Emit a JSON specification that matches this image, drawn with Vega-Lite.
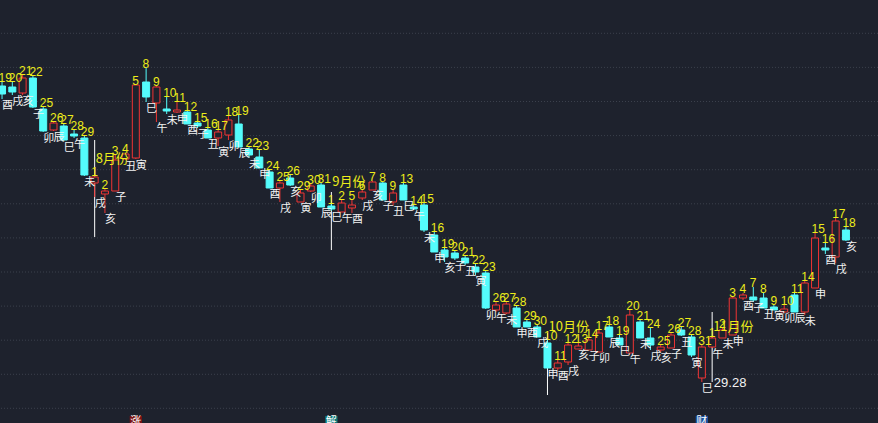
{
  "$schema": "https://vega.github.io/schema/vega-lite/v6.json",
  "width": 878,
  "height": 423,
  "autosize": {"type": "none"},
  "padding": 0,
  "background": "#1e222d",
  "config": {"view": {"stroke": null}},
  "datasets": {
    "k": [
      {"i":0,"d":"19","b":"酉","o":35.20,"h":35.28,"l":34.94,"c":35.04},
      {"i":1,"d":"20","b":"戌","o":35.18,"h":35.28,"l":35.02,"c":35.08},
      {"i":2,"d":"21","b":"亥","o":35.06,"h":35.42,"l":35.02,"c":35.36},
      {"i":3,"d":"22","b":"子","o":35.36,"h":35.40,"l":34.76,"c":34.78},
      {"i":4,"d":"25","b":"卯","o":34.74,"h":34.78,"l":34.28,"c":34.30},
      {"i":5,"d":"26","b":"辰","o":34.32,"h":34.48,"l":34.30,"c":34.46},
      {"i":6,"d":"27","b":"巳","o":34.40,"h":34.44,"l":34.10,"c":34.12},
      {"i":7,"d":"28","b":"午","o":34.24,"h":34.32,"l":34.16,"c":34.20},
      {"i":8,"d":"29","b":"未","o":34.16,"h":34.20,"l":33.40,"c":33.42},
      {"i":9,"d":"1","b":"戌","o":33.26,"h":33.40,"l":32.98,"c":33.38},
      {"i":10,"d":"2","b":"亥","o":33.04,"h":33.14,"l":32.66,"c":33.10},
      {"i":11,"d":"3","b":"子","o":33.10,"h":33.82,"l":33.10,"c":33.72},
      {"i":12,"d":"4","b":"丑","o":33.74,"h":33.86,"l":33.72,"c":33.84},
      {"i":13,"d":"5","b":"寅","o":33.76,"h":35.22,"l":33.74,"c":35.22},
      {"i":14,"d":"8","b":"巳","o":35.28,"h":35.56,"l":34.88,"c":34.98},
      {"i":15,"d":"9","b":"午","o":34.86,"h":35.20,"l":34.48,"c":35.18},
      {"i":16,"d":"10","b":"未","o":34.74,"h":34.98,"l":34.64,"c":34.70},
      {"i":17,"d":"11","b":"申","o":34.68,"h":34.88,"l":34.66,"c":34.72},
      {"i":18,"d":"12","b":"酉","o":34.68,"h":34.70,"l":34.44,"c":34.44},
      {"i":19,"d":"15","b":"子","o":34.46,"h":34.48,"l":34.36,"c":34.40},
      {"i":20,"d":"16","b":"丑","o":34.32,"h":34.36,"l":34.16,"c":34.16},
      {"i":21,"d":"17","b":"寅","o":34.16,"h":34.32,"l":34.00,"c":34.28},
      {"i":22,"d":"18","b":"卯","o":34.22,"h":34.60,"l":34.12,"c":34.52},
      {"i":23,"d":"19","b":"辰","o":34.44,"h":34.62,"l":33.98,"c":33.98},
      {"i":24,"d":"22","b":"未","o":33.94,"h":33.98,"l":33.76,"c":33.82},
      {"i":25,"d":"23","b":"申","o":33.78,"h":33.92,"l":33.56,"c":33.56},
      {"i":26,"d":"24","b":"酉","o":33.48,"h":33.52,"l":33.16,"c":33.16},
      {"i":27,"d":"25","b":"戌","o":33.16,"h":33.30,"l":32.88,"c":33.26},
      {"i":28,"d":"26","b":"亥","o":33.36,"h":33.42,"l":33.20,"c":33.22},
      {"i":29,"d":"29","b":"寅","o":32.88,"h":33.12,"l":32.88,"c":33.06},
      {"i":30,"d":"30","b":"卯","o":33.10,"h":33.24,"l":33.08,"c":33.20},
      {"i":31,"d":"31","b":"辰","o":33.22,"h":33.26,"l":32.78,"c":32.78},
      {"i":32,"d":"1","b":"巳","o":32.80,"h":32.84,"l":32.70,"c":32.74},
      {"i":33,"d":"2","b":"午","o":32.68,"h":32.92,"l":32.68,"c":32.86},
      {"i":34,"d":"5","b":"酉","o":32.76,"h":32.92,"l":32.66,"c":32.82},
      {"i":35,"d":"6","b":"戌","o":32.96,"h":33.12,"l":32.92,"c":33.08},
      {"i":36,"d":"7","b":"亥","o":33.12,"h":33.30,"l":33.12,"c":33.28},
      {"i":37,"d":"8","b":"子","o":33.26,"h":33.28,"l":32.92,"c":32.92},
      {"i":38,"d":"9","b":"丑","o":32.88,"h":33.12,"l":32.82,"c":33.06},
      {"i":39,"d":"13","b":"巳","o":33.22,"h":33.26,"l":32.92,"c":32.92},
      {"i":40,"d":"14","b":"午","o":32.78,"h":32.82,"l":32.72,"c":32.74},
      {"i":41,"d":"15","b":"未","o":32.82,"h":32.86,"l":32.28,"c":32.32},
      {"i":42,"d":"16","b":"申","o":32.22,"h":32.28,"l":31.88,"c":31.88},
      {"i":43,"d":"19","b":"亥","o":31.92,"h":31.96,"l":31.68,"c":31.78},
      {"i":44,"d":"20","b":"子","o":31.86,"h":31.90,"l":31.72,"c":31.76},
      {"i":45,"d":"21","b":"丑","o":31.76,"h":31.80,"l":31.62,"c":31.66},
      {"i":46,"d":"22","b":"寅","o":31.58,"h":31.64,"l":31.42,"c":31.48},
      {"i":47,"d":"23","b":"卯","o":31.46,"h":31.50,"l":30.74,"c":30.76},
      {"i":48,"d":"26","b":"午","o":30.72,"h":30.88,"l":30.68,"c":30.82},
      {"i":49,"d":"27","b":"未","o":30.66,"h":30.88,"l":30.64,"c":30.84},
      {"i":50,"d":"28","b":"申","o":30.76,"h":30.80,"l":30.38,"c":30.38},
      {"i":51,"d":"29","b":"酉","o":30.48,"h":30.52,"l":30.38,"c":30.38},
      {"i":52,"d":"30","b":"戌","o":30.38,"h":30.42,"l":30.18,"c":30.18},
      {"i":53,"d":"10","b":"申","o":30.06,"h":30.12,"l":29.56,"c":29.56},
      {"i":54,"d":"11","b":"酉","o":29.56,"h":29.72,"l":29.52,"c":29.66},
      {"i":55,"d":"12","b":"戌","o":29.68,"h":30.06,"l":29.62,"c":30.02},
      {"i":56,"d":"13","b":"亥","o":29.94,"h":30.06,"l":29.94,"c":30.00},
      {"i":57,"d":"14","b":"子","o":29.92,"h":30.16,"l":29.92,"c":30.12},
      {"i":58,"d":"17","b":"卯","o":29.88,"h":30.32,"l":29.88,"c":30.26},
      {"i":59,"d":"18","b":"辰","o":30.38,"h":30.42,"l":30.18,"c":30.18},
      {"i":60,"d":"19","b":"巳","o":30.16,"h":30.22,"l":30.02,"c":30.02},
      {"i":61,"d":"20","b":"午","o":29.86,"h":30.72,"l":29.86,"c":30.62},
      {"i":62,"d":"21","b":"未","o":30.48,"h":30.52,"l":30.16,"c":30.16},
      {"i":63,"d":"24","b":"戌","o":30.16,"h":30.36,"l":29.92,"c":30.02},
      {"i":64,"d":"25","b":"亥","o":29.92,"h":30.02,"l":29.88,"c":29.98},
      {"i":65,"d":"26","b":"子","o":29.96,"h":30.26,"l":29.96,"c":30.22},
      {"i":66,"d":"27","b":"丑","o":30.32,"h":30.38,"l":30.20,"c":30.22},
      {"i":67,"d":"28","b":"寅","o":30.18,"h":30.22,"l":29.78,"c":29.82},
      {"i":68,"d":"31","b":"巳","o":29.36,"h":30.02,"l":29.28,"c":29.98},
      {"i":69,"d":"1","b":"午","o":29.98,"h":30.18,"l":29.96,"c":30.16},
      {"i":70,"d":"2","b":"未","o":30.16,"h":30.36,"l":30.16,"c":30.32},
      {"i":71,"d":"3","b":"申","o":30.22,"h":30.98,"l":30.22,"c":30.96},
      {"i":72,"d":"4","b":"酉","o":30.96,"h":31.06,"l":30.92,"c":31.02},
      {"i":73,"d":"7","b":"子","o":30.98,"h":31.18,"l":30.88,"c":30.92},
      {"i":74,"d":"8","b":"丑","o":30.96,"h":31.06,"l":30.76,"c":30.76},
      {"i":75,"d":"9","b":"寅","o":30.78,"h":30.82,"l":30.72,"c":30.72},
      {"i":76,"d":"10","b":"卯","o":30.68,"h":30.82,"l":30.68,"c":30.74},
      {"i":77,"d":"11","b":"辰","o":31.02,"h":31.06,"l":30.68,"c":30.68},
      {"i":78,"d":"14","b":"未","o":30.68,"h":31.30,"l":30.62,"c":31.26},
      {"i":79,"d":"15","b":"申","o":31.16,"h":32.26,"l":31.16,"c":32.16},
      {"i":80,"d":"16","b":"酉","o":31.96,"h":32.06,"l":31.84,"c":31.92},
      {"i":81,"d":"17","b":"戌","o":31.78,"h":32.56,"l":31.66,"c":32.50},
      {"i":82,"d":"18","b":"亥","o":32.32,"h":32.38,"l":32.10,"c":32.12}
    ],
    "grid": [{"g":36.254},{"g":35.572},{"g":34.89},{"g":34.208},{"g":33.526},{"g":32.844},{"g":32.162},{"g":31.48},{"g":30.798},{"g":30.116},{"g":29.434},{"g":28.754}],
    "months": [
      {"i":9,"m":"8月份","t":34.12,"bt":32.18,"ty":33.60},
      {"i":32,"m":"9月份","t":33.08,"bt":31.92,"ty":33.14},
      {"i":53,"m":"10月份","t":30.26,"bt":29.02,"ty":30.24},
      {"i":69,"m":"11月份","t":30.68,"bt":29.28,"ty":30.24}
    ],
    "low": [{"i":68,"v":29.28}],
    "ev": [{"i":13,"t":"涨"},{"i":32,"t":"解"},{"i":68,"t":"财"}]
  },
  "layer": [
    {
      "data": {"name": "grid"},
      "mark": {"type": "rule", "strokeDash": [1, 2], "color": "#3b404c", "strokeWidth": 1},
      "encoding": {
        "y": {"field": "g", "type": "quantitative", "scale": {"domain": [28.46, 36.92], "nice": false, "zero": false}, "axis": null}
      }
    },
    {
      "data": {"name": "months"},
      "mark": {"type": "rule", "color": "#ffffff", "strokeWidth": 1},
      "encoding": {
        "x": {"field": "i", "type": "quantitative", "scale": {"domain": [0.288, 84.63], "nice": false, "zero": false}, "axis": null},
        "y": {"field": "t", "type": "quantitative", "axis": null},
        "y2": {"field": "bt"}
      }
    },
    {
      "data": {"name": "k"},
      "mark": {"type": "rule", "strokeWidth": 1},
      "encoding": {
        "x": {"field": "i", "type": "quantitative", "axis": null},
        "y": {"field": "l", "type": "quantitative", "axis": null},
        "y2": {"field": "h"},
        "color": {"condition": {"test": "datum.c >= datum.o", "value": "#f03434"}, "value": "#54fcfc"}
      }
    },
    {
      "data": {"name": "k"},
      "mark": {"type": "bar", "width": 7, "strokeWidth": 1},
      "encoding": {
        "x": {"field": "i", "type": "quantitative", "axis": null},
        "y": {"field": "o", "type": "quantitative", "axis": null},
        "y2": {"field": "c"},
        "fill": {"condition": {"test": "datum.c >= datum.o", "value": "#1e222d"}, "value": "#54fcfc"},
        "stroke": {"condition": {"test": "datum.c >= datum.o", "value": "#f03434"}, "value": "#54fcfc"}
      }
    },
    {
      "data": {"name": "k"},
      "mark": {"type": "text", "align": "left", "baseline": "bottom", "dx": -3.5, "dy": 3, "fontSize": 12, "font": "Liberation Sans", "fill": "#eded1a"},
      "encoding": {
        "x": {"field": "i", "type": "quantitative", "axis": null},
        "y": {"field": "h", "type": "quantitative", "axis": null},
        "text": {"field": "d"}
      }
    },
    {
      "data": {"name": "k"},
      "mark": {"type": "text", "align": "left", "baseline": "top", "dx": 0, "dy": 1, "fontSize": 11, "font": "Noto Sans CJK SC", "fill": "#f2f2f2"},
      "encoding": {
        "x": {"field": "i", "type": "quantitative", "axis": null},
        "y": {"field": "l", "type": "quantitative", "axis": null},
        "text": {"field": "b"}
      }
    },
    {
      "data": {"name": "months"},
      "mark": {"type": "text", "align": "left", "baseline": "bottom", "dx": 1, "fontSize": 13, "font": "Noto Sans CJK SC", "fill": "#eded1a"},
      "encoding": {
        "x": {"field": "i", "type": "quantitative", "axis": null},
        "y": {"field": "ty", "type": "quantitative", "axis": null},
        "text": {"field": "m"}
      }
    },
    {
      "data": {"name": "low"},
      "mark": {"type": "text", "align": "left", "baseline": "middle", "dx": 12, "dy": 1, "fontSize": 13, "font": "Liberation Sans", "fill": "#f2f2f2"},
      "encoding": {
        "x": {"field": "i", "type": "quantitative", "axis": null},
        "y": {"field": "v", "type": "quantitative", "axis": null},
        "text": {"field": "v", "type": "quantitative", "format": ".2f"}
      }
    },
    {
      "data": {"name": "ev"},
      "mark": {"type": "point", "shape": "square", "filled": true, "size": 150, "opacity": 1},
      "encoding": {
        "x": {"field": "i", "type": "quantitative", "axis": null},
        "y": {"datum": 28.48, "type": "quantitative", "axis": null},
        "color": {"field": "t", "type": "nominal", "scale": {"domain": ["涨", "解", "财"], "range": ["#7a1414", "#0f7a7a", "#1a4f9c"]}, "legend": null}
      }
    },
    {
      "data": {"name": "ev"},
      "mark": {"type": "text", "align": "center", "baseline": "middle", "fontSize": 11, "font": "Noto Sans CJK SC", "fill": "#ffffff"},
      "encoding": {
        "x": {"field": "i", "type": "quantitative", "axis": null},
        "y": {"datum": 28.48, "type": "quantitative", "axis": null},
        "text": {"field": "t"}
      }
    }
  ]
}
